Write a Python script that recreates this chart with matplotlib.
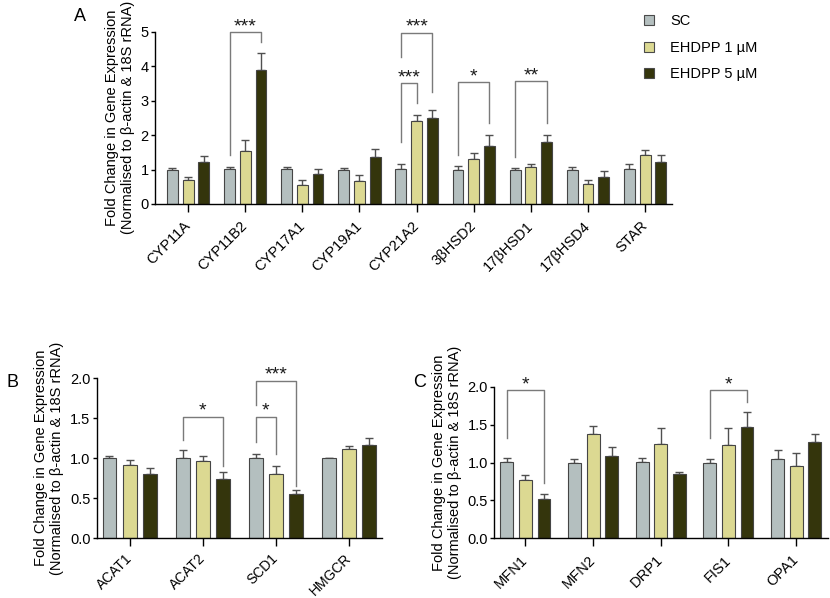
import numpy as np
import matplotlib
matplotlib.use("Agg")
import matplotlib.pyplot as plt
from matplotlib.lines import Line2D

plt.rcParams['font.family'] = ['Liberation Sans', 'DejaVu Sans']

groups = ["SC", "EHDPP 1 \u00b5M", "EHDPP 5 \u00b5M"]
colors = ["#b4bfbf", "#dcd992", "#34350c"]

# panel A - steroidogenic genes
genes_a = ["CYP11A", "CYP11B2", "CYP17A1", "CYP19A1", "CYP21A2",
           "3\u03b2HSD2", "17\u03b2HSD1", "17\u03b2HSD4", "STAR"]
sc_a = [1.00, 1.01, 1.01, 1.00, 1.02, 1.00, 1.00, 1.00, 1.02]
sc_a_err = [0.03, 0.07, 0.05, 0.03, 0.13, 0.09, 0.05, 0.06, 0.13]
e1_a = [0.69, 1.54, 0.54, 0.67, 2.40, 1.30, 1.07, 0.57, 1.41]
e1_a_err = [0.10, 0.31, 0.15, 0.16, 0.17, 0.19, 0.10, 0.12, 0.15]
e5_a = [1.21, 3.89, 0.88, 1.35, 2.50, 1.68, 1.80, 0.78, 1.22]
e5_a_err = [0.19, 0.49, 0.14, 0.24, 0.23, 0.31, 0.21, 0.19, 0.19]
# (gene, bar from, bar to, top, left leg end, right leg end, stars)
sig_a = [(1, 0, 2, 4.98, 1.42, 4.71, "***"),
         (4, 0, 2, 4.97, 4.27, 3.26, "***"),
         (4, 0, 1, 3.50, 1.81, 2.93, "***"),
         (5, 0, 2, 3.53, 1.42, 2.34, "*"),
         (6, 0, 2, 3.56, 1.37, 2.34, "**")]

# panel B - lipid genes
genes_b = ["ACAT1", "ACAT2", "SCD1", "HMGCR"]
sc_b = [1.00, 1.01, 1.00, 1.00]
sc_b_err = [0.03, 0.09, 0.05, 0.01]
e1_b = [0.92, 0.97, 0.80, 1.12]
e1_b_err = [0.06, 0.06, 0.11, 0.03]
e5_b = [0.80, 0.74, 0.55, 1.17]
e5_b_err = [0.08, 0.09, 0.05, 0.08]
sig_b = [(1, 0, 2, 1.52, 1.23, 0.90, "*"),
         (2, 0, 1, 1.52, 1.20, 1.06, "*"),
         (2, 0, 2, 1.97, 1.67, 0.65, "***")]

# panel C - mitochondrial dynamics genes
genes_c = ["MFN1", "MFN2", "DRP1", "FIS1", "OPA1"]
sc_c = [1.01, 1.00, 1.01, 1.00, 1.05]
sc_c_err = [0.05, 0.04, 0.05, 0.05, 0.11]
e1_c = [0.77, 1.38, 1.25, 1.23, 0.95]
e1_c_err = [0.07, 0.10, 0.20, 0.23, 0.18]
e5_c = [0.52, 1.09, 0.85, 1.47, 1.27]
e5_c_err = [0.07, 0.12, 0.03, 0.20, 0.11]
sig_c = [(0, 0, 2, 1.96, 1.32, 0.73, "*"),
         (3, 0, 2, 1.96, 1.32, 1.80, "*")]

OFF = 0.275
W = 0.19
LBL = "Fold Change in Gene Expression\n(Normalised to \u03b2-actin & 18S rRNA)"


def panel(ax, genes, vals, errs, sigs, ymax, ystep, fmt, xpad, star_off,
          xfs=10.5, xpad_pt=8.5):
    x = np.arange(len(genes))
    for k in range(3):
        pos = x + (k - 1) * OFF
        ax.bar(pos, vals[k], W, color=colors[k], edgecolor="#454545",
               linewidth=0.8, zorder=2)
        ax.errorbar(pos, vals[k], yerr=[np.zeros(len(genes)), errs[k]],
                    fmt="none", ecolor="#505050", elinewidth=1, capsize=3,
                    capthick=1, zorder=1)
    for g, a, b, top, ly, ry, s in sigs:
        xa = g + (a - 1) * OFF
        xb = g + (b - 1) * OFF
        ax.plot([xa, xa, xb, xb], [ly, top, top, ry], color="#7a7a7a",
                lw=1, clip_on=False, zorder=3)
        ax.text((xa + xb) / 2, top + star_off, s, ha="center", va="center",
                fontsize=14, color="#1a1a1a", clip_on=False)
    ax.set_xlim(-xpad[0], len(genes) - 1 + xpad[1])
    ax.set_ylim(0, ymax)
    ax.set_yticks(np.arange(0, ymax + 1e-9, ystep))
    ax.set_yticklabels([fmt.format(v) for v in np.arange(0, ymax + 1e-9, ystep)])
    ax.set_xticks(x)
    ax.set_xticklabels(genes, rotation=45, ha="right", va="center",
                       rotation_mode="anchor", fontsize=xfs)
    ax.tick_params(axis="y", labelsize=10.5, length=3, width=1, pad=1.5)
    ax.tick_params(axis="x", length=5.5, width=1, pad=xpad_pt)
    ax.spines["top"].set_visible(False)
    ax.spines["right"].set_visible(False)
    ax.spines["left"].set_linewidth(1)
    ax.spines["bottom"].set_linewidth(1)
    ax.set_ylabel(LBL, fontsize=10.5, labelpad=4, linespacing=1.2)


fig = plt.figure(figsize=(8.3, 5.98), dpi=100)

ax_a = fig.add_axes([0.1867, 0.6589, 0.6229, 0.2881])
panel(ax_a, genes_a, [sc_a, e1_a, e5_a], [sc_a_err, e1_a_err, e5_a_err],
      sig_a, 5, 1, "{:.0f}", (0.58, 0.47), 0.16)

ax_b = fig.add_axes([0.1165, 0.0998, 0.3437, 0.2676])
panel(ax_b, genes_b, [sc_b, e1_b, e5_b], [sc_b_err, e1_b_err, e5_b_err],
      sig_b, 2, 0.5, "{:.1f}", (0.45, 0.45), 0.075, xfs=10, xpad_pt=7.5)

ax_c = fig.add_axes([0.5955, 0.0998, 0.4020, 0.2535])
panel(ax_c, genes_c, [sc_c, e1_c, e5_c], [sc_c_err, e1_c_err, e5_c_err],
      sig_c, 2, 0.5, "{:.1f}", (0.46, 0.47), 0.066)

handles = [Line2D([], [], marker="s", linestyle="none", markersize=6.5,
                  markerfacecolor=c, markeredgecolor="#4a4a4a",
                  markeredgewidth=0.8) for c in colors]
fig.legend(handles, groups, loc="upper left", bbox_to_anchor=(0.748, 0.998),
           frameon=False, fontsize=10.5, labelspacing=0.85, handletextpad=0.5)

fig.text(0.096, 0.972, "A", fontsize=13, ha="center", va="center")
fig.text(0.015, 0.360, "B", fontsize=13, ha="center", va="center")
fig.text(0.506, 0.360, "C", fontsize=13, ha="center", va="center")

fig.savefig("out.png", dpi=100)
